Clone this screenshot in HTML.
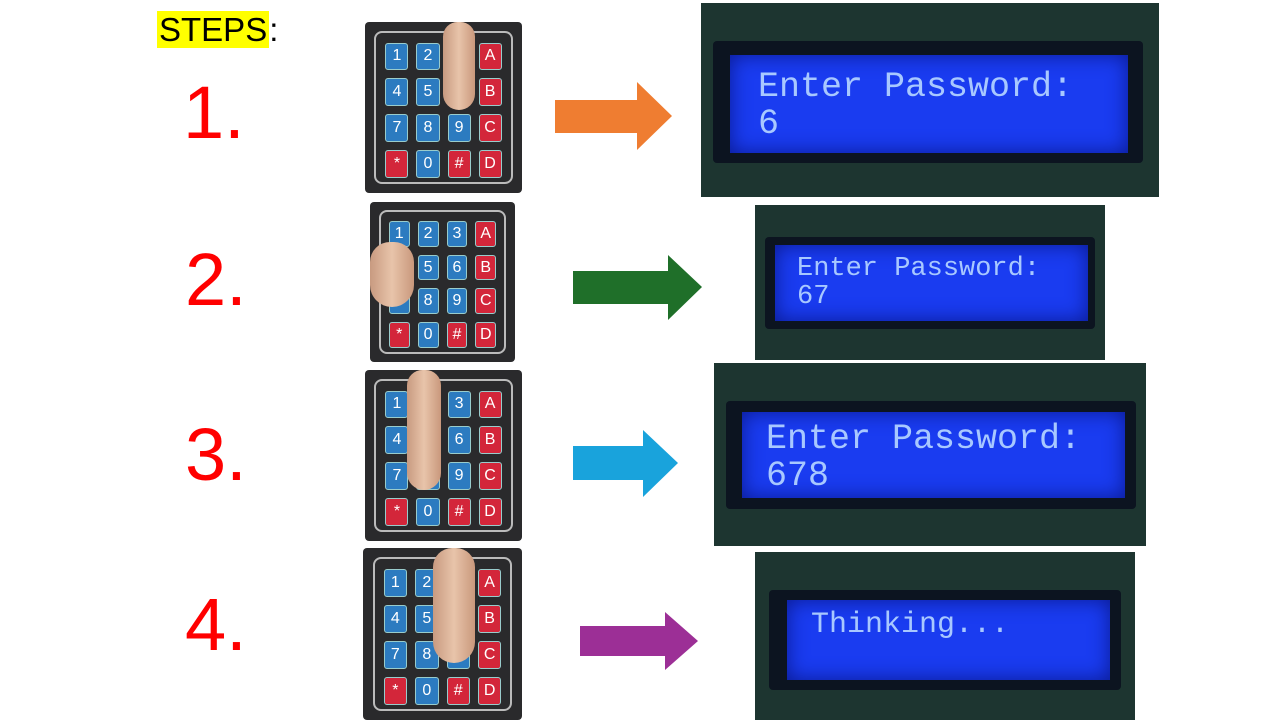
<!DOCTYPE html>
<html><head><meta charset="utf-8"><style>
body{margin:0;width:1280px;height:720px;background:#fff;position:relative;overflow:hidden;font-family:"Liberation Sans",sans-serif}
.a{position:absolute}
.num{position:absolute;color:#f00;font-size:74px;line-height:1}
.kp{position:absolute;background:#2a2a2c;border-radius:4px;box-sizing:border-box}
.kp .in{position:absolute;left:6%;top:5%;right:6%;bottom:5%;border:2px solid #bbb;border-radius:8px}
.grid{position:absolute;left:13%;top:12%;right:13%;bottom:9%;display:grid;grid-template-columns:repeat(4,1fr);grid-template-rows:repeat(4,1fr);gap:8px}
.k{border-radius:3px;color:#fff;font-size:16px;display:flex;align-items:center;justify-content:center;background:#2c7bc0;border:1px solid #9cc}
.r{background:#d3263a}
.f{position:absolute;background:linear-gradient(90deg,#c89a80,#e8c4aa,#c9987c);border-radius:20px 20px 22px 22px}
.lcd{position:absolute;background:#1d3530;overflow:hidden}
.bez{position:absolute;background:#0c1420;border-radius:4px}
.scr{position:absolute;background:#1a3cf0;box-shadow:inset 0 0 20px #0a1a90;font-family:"Liberation Mono",monospace;color:#a8c8ff;padding-left:24px;box-sizing:border-box;line-height:1.05}
</style></head><body>
<div class="a" style="left:157px;top:5px;height:50px;font-size:33px;line-height:50px"><span style="background:#ff0;padding:0 2px">STEPS</span>:</div>

<div class="num" style="left:183px;top:76px">1.</div>
<div class="num" style="left:185px;top:243px">2.</div>
<div class="num" style="left:185px;top:418px">3.</div>
<div class="num" style="left:185px;top:588px">4.</div>

<div class="kp" style="left:365px;top:22px;width:157px;height:171px"><div class="in"></div><div class="grid">
<div class="k">1</div><div class="k">2</div><div class="k">3</div><div class="k r">A</div><div class="k">4</div><div class="k">5</div><div class="k">6</div><div class="k r">B</div><div class="k">7</div><div class="k">8</div><div class="k">9</div><div class="k r">C</div><div class="k r">*</div><div class="k">0</div><div class="k r">#</div><div class="k r">D</div></div>
<div class="f" style="left:78px;top:0;width:32px;height:88px"></div></div>

<div class="kp" style="left:370px;top:202px;width:145px;height:160px"><div class="in"></div><div class="grid">
<div class="k">1</div><div class="k">2</div><div class="k">3</div><div class="k r">A</div><div class="k">4</div><div class="k">5</div><div class="k">6</div><div class="k r">B</div><div class="k">7</div><div class="k">8</div><div class="k">9</div><div class="k r">C</div><div class="k r">*</div><div class="k">0</div><div class="k r">#</div><div class="k r">D</div></div>
<div class="f" style="left:0;top:40px;width:44px;height:65px"></div></div>

<div class="kp" style="left:365px;top:370px;width:157px;height:171px"><div class="in"></div><div class="grid">
<div class="k">1</div><div class="k">2</div><div class="k">3</div><div class="k r">A</div><div class="k">4</div><div class="k">5</div><div class="k">6</div><div class="k r">B</div><div class="k">7</div><div class="k">8</div><div class="k">9</div><div class="k r">C</div><div class="k r">*</div><div class="k">0</div><div class="k r">#</div><div class="k r">D</div></div>
<div class="f" style="left:42px;top:0;width:34px;height:120px"></div></div>

<div class="kp" style="left:363px;top:548px;width:159px;height:172px"><div class="in"></div><div class="grid">
<div class="k">1</div><div class="k">2</div><div class="k">3</div><div class="k r">A</div><div class="k">4</div><div class="k">5</div><div class="k">6</div><div class="k r">B</div><div class="k">7</div><div class="k">8</div><div class="k">9</div><div class="k r">C</div><div class="k r">*</div><div class="k">0</div><div class="k r">#</div><div class="k r">D</div></div>
<div class="f" style="left:70px;top:0;width:42px;height:115px"></div></div>

<svg class="a" style="left:0;top:0" width="1280" height="720">
<polygon fill="#ef7d31" points="555,100 637,100 637,82 672,116 637,150 637,133 555,133"/>
<polygon fill="#1f6f29" points="573,271 668,271 668,255 702,287 668,320 668,304 573,304"/>
<polygon fill="#19a3dc" points="573,446 643,446 643,430 678,463 643,497 643,480 573,480"/>
<polygon fill="#9c2f96" points="580,626 665,626 665,612 698,641 665,670 665,656 580,656"/>
</svg>

<div class="lcd" style="left:701px;top:3px;width:458px;height:194px">
<div class="bez" style="left:12px;top:38px;width:430px;height:122px"></div>
<div class="scr" style="left:29px;top:52px;width:398px;height:98px;font-size:35px;padding-top:14px;padding-left:28px">Enter Password:<br>6</div></div>

<div class="lcd" style="left:755px;top:205px;width:350px;height:155px">
<div class="bez" style="left:10px;top:32px;width:330px;height:92px"></div>
<div class="scr" style="left:20px;top:40px;width:313px;height:76px;font-size:27px;padding-top:10px;padding-left:22px">Enter Password:<br>67</div></div>

<div class="lcd" style="left:714px;top:363px;width:432px;height:183px">
<div class="bez" style="left:12px;top:38px;width:410px;height:108px"></div>
<div class="scr" style="left:28px;top:49px;width:383px;height:86px;font-size:35px;padding-top:9px">Enter Password:<br>678</div></div>

<div class="lcd" style="left:755px;top:552px;width:380px;height:168px">
<div class="bez" style="left:14px;top:38px;width:352px;height:100px"></div>
<div class="scr" style="left:32px;top:48px;width:323px;height:80px;font-size:30px;padding-top:10px">Thinking...</div></div>
</body></html>
